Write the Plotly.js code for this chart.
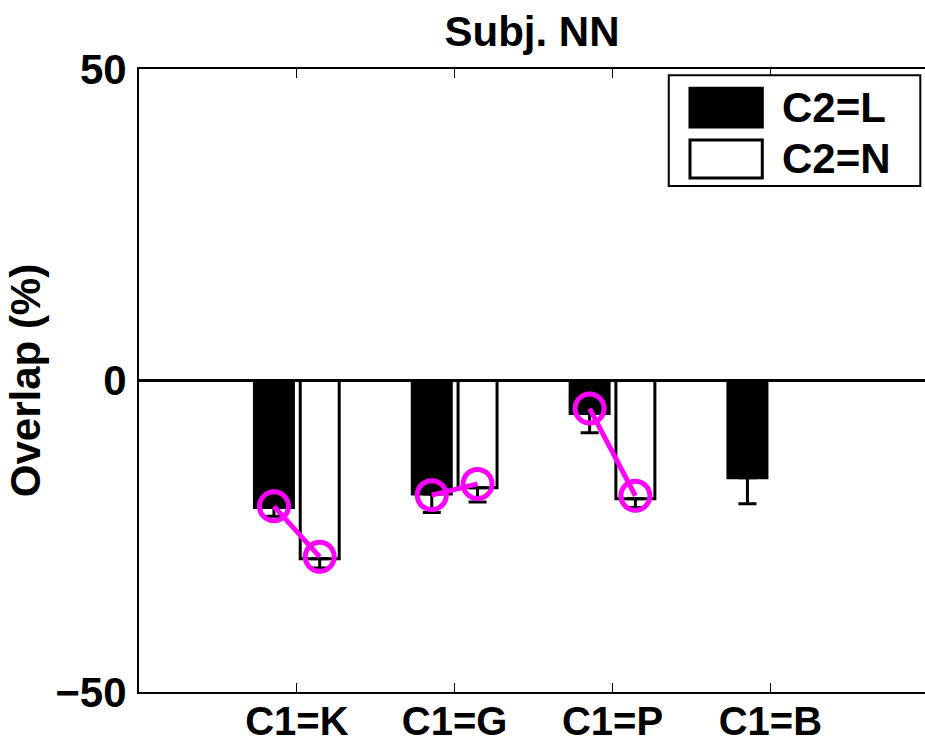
<!DOCTYPE html>
<html>
<head>
<meta charset="utf-8">
<script src="https://cdn.plot.ly/plotly-3.0.1.min.js"></script>
<style>html,body{margin:0;padding:0;background:#fff;}#chart{width:925px;height:743px;}</style>
</head>
<body>
<div id="chart"></div>
<script>
// ---- data ----
const categories = ["C1=K", "C1=G", "C1=P", "C1=B"];
const seriesNames = ["C2=L", "C2=N"];
const valuesL = [-20.4, -18.2, -5.3, -15.6];
const errorsL = [1.4, 3.0, 3.1, 4.2];
const valuesN = [-28.6, -17.2, -19.0, 0];
const errorsN = [1.5, 2.3, 1.4, 0];
const circlesL = [-20.2, -18.4, -4.5, null];
const circlesN = [-28.3, -16.6, -18.5, null];
const yTicks = [-50, 0, 50];
const yTickText = ["\u221250", "0", "50"];

// ---- styles ----
const FONT = "'Liberation Sans', Arial, Helvetica, sans-serif";
const barW = 0.247, centerL = -0.145, centerN = 0.145;
const xs = categories.map((c, i) => i + 1);

// circle/line trace: pairs per category separated by gaps
const cx = [], cy = [];
categories.forEach((c, i) => {
  if (circlesL[i] !== null && circlesN[i] !== null) {
    cx.push(xs[i] + centerL, xs[i] + centerN, null);
    cy.push(circlesL[i], circlesN[i], null);
  }
});

const traces = [
  {
    type: 'bar', name: seriesNames[0], x: xs, y: valuesL,
    width: barW, offset: centerL - barW / 2,
    marker: {color: '#000', line: {color: '#000', width: 3}},
    error_y: {type: 'data', symmetric: false, array: valuesL.map(() => 0), arrayminus: errorsL,
              color: '#000', thickness: 3, width: 9},
    showlegend: false
  },
  {
    type: 'bar', name: seriesNames[1], x: xs, y: valuesN,
    width: barW, offset: centerN - barW / 2,
    marker: {color: '#fff', line: {color: '#000', width: 3}},
    error_y: {type: 'data', symmetric: false, array: valuesN.map(() => 0), arrayminus: errorsN,
              color: '#000', thickness: 3, width: 9},
    showlegend: false
  },
  {
    type: 'scatter', mode: 'lines+markers', x: cx, y: cy, connectgaps: false,
    line: {color: '#ff00ff', width: 5},
    marker: {symbol: 'circle-open', size: 29, color: '#ff00ff', line: {color: '#ff00ff', width: 5}},
    showlegend: false, hoverinfo: 'skip'
  }
];

// legend built from shapes + annotations (paper coords)
const lg = {x0: 0.674, x1: 0.994, y0: 0.812, y1: 0.990};
const shapes = [
  {type: 'rect', xref: 'paper', yref: 'paper', x0: lg.x0, x1: lg.x1, y0: lg.y0, y1: lg.y1,
   line: {color: '#000', width: 2}, fillcolor: '#fff'},
  {type: 'rect', xref: 'paper', yref: 'paper', x0: 0.701, x1: 0.793, y0: 0.907, y1: 0.969,
   line: {color: '#000', width: 3}, fillcolor: '#000'},
  {type: 'rect', xref: 'paper', yref: 'paper', x0: 0.701, x1: 0.793, y0: 0.825, y1: 0.886,
   line: {color: '#000', width: 3}, fillcolor: '#fff'}
];
const annotations = [
  {xref: 'paper', yref: 'paper', x: 0.815, y: 0.939, xanchor: 'left', yanchor: 'middle',
   text: seriesNames[0], showarrow: false, font: {family: FONT, size: 42, weight: 'bold', color: '#000'}},
  {xref: 'paper', yref: 'paper', x: 0.815, y: 0.856, xanchor: 'left', yanchor: 'middle',
   text: seriesNames[1], showarrow: false, font: {family: FONT, size: 42, weight: 'bold', color: '#000'}}
];

const layout = {
  width: 925, height: 743,
  margin: {l: 139, r: 0, t: 69, b: 51},
  paper_bgcolor: '#fff', plot_bgcolor: '#fff',
  barmode: 'overlay',
  font: {family: FONT, size: 42, color: '#000', weight: 'bold'},
  title: {text: 'Subj. NN', x: 0.5, xref: 'paper', xanchor: 'center', y: 0.958, yref: 'container', yanchor: 'middle',
          font: {family: FONT, size: 42, weight: 'bold', color: '#000'}},
  xaxis: {
    range: [0, 4.98], tickvals: xs, ticktext: categories,
    ticks: 'inside', ticklen: 9, tickwidth: 1, tickcolor: '#000',
    showline: true, linecolor: '#000', linewidth: 2, mirror: 'ticks',
    showgrid: false, zeroline: false, fixedrange: true,
    ticklabelstandoff: -7,
    tickfont: {family: FONT, size: 40, weight: 'bold', color: '#000'}
  },
  yaxis: {
    range: [-50, 50], tickvals: yTicks, ticktext: yTickText,
    ticks: '', showline: true, linecolor: '#000', linewidth: 2, mirror: false,
    showgrid: false, zeroline: true, zerolinecolor: '#000', zerolinewidth: 3,
    ticklabelstandoff: 2,
    tickfont: {family: FONT, size: 42, weight: 'bold', color: '#000'},
    title: {text: 'Overlap (%)', standoff: 2, font: {family: FONT, size: 42, weight: 'bold', color: '#000'}},
    fixedrange: true
  },
  shapes: shapes,
  annotations: annotations
};

Plotly.newPlot('chart', traces, layout, {displayModeBar: false, staticPlot: true});
</script>
</body>
</html>
